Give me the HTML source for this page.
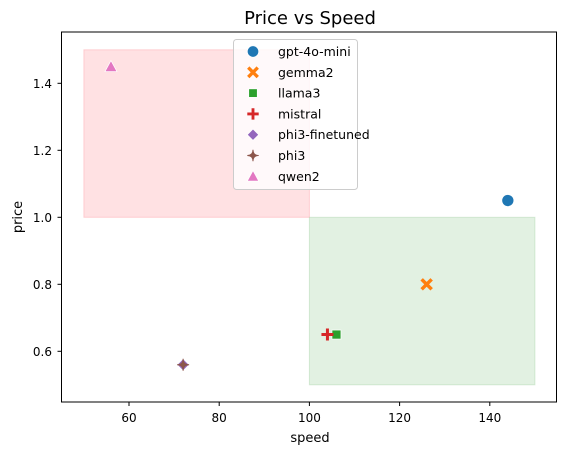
<!DOCTYPE html>
<html><head><meta charset="utf-8"><style>
body{margin:0;background:#fff;font-family:"DejaVu Sans","Liberation Sans",sans-serif}
</style></head><body>
<svg width="567" height="455" id="c" font-family="DejaVu Sans, Liberation Sans, sans-serif">
<text x="310" y="24" font-size="18" text-anchor="middle">Price vs Speed</text>
<g id="plot"></g>
<rect x="61.5" y="32" width="495" height="370" fill="none" stroke="#000" stroke-width="1"/>
<text x="310" y="442" font-size="13" text-anchor="middle">speed</text>
<text transform="translate(22,217) rotate(-90)" font-size="13" text-anchor="middle">price</text>
</svg>
<script>
const names=["gpt-4o-mini","gemma2","llama3","mistral","phi3-finetuned","phi3","qwen2"];
const speeds=[144,126,106,104,72,72,56];
const prices=[1.05,0.8,0.65,0.65,0.56,0.56,1.45];
const colors=["#1f77b4","#ff7f0e","#2ca02c","#d62728","#9467bd","#8c564b","#e377c2"];
const xTicks=[60,80,100,120,140];
const yTicks=[0.6,0.8,1.0,1.2,1.4];
const regions=[{x0:50,x1:100,y0:1.0,y1:1.5,c:"#ff9aa2"},{x0:100,x1:150,y0:0.5,y1:1.0,c:"#9fcf9f"}];
const X=v=>129+(v-60)*4.51;
const Y=v=>351.3-(v-0.6)*335;
const NS="http://www.w3.org/2000/svg";
const g=document.getElementById('plot');
function mk(t,a,p){const e=document.createElementNS(NS,t);for(const k in a)e.setAttribute(k,a[k]);(p||g).appendChild(e);return e;}
regions.forEach(r=>{const e=mk('rect',{x:X(r.x0),y:Y(r.y1),width:X(r.x1)-X(r.x0),height:Y(r.y0)-Y(r.y1),fill:r.c,'fill-opacity':0.3,stroke:r.c,'stroke-opacity':0.4});

});
xTicks.forEach(t=>{mk('line',{x1:X(t),x2:X(t),y1:402,y2:406,stroke:'#000','stroke-width':1});
const e=mk('text',{x:X(t),y:422,'font-size':12,'text-anchor':'middle'});e.textContent=t;

});
yTicks.forEach(t=>{mk('line',{x1:57.5,x2:61.5,y1:Y(t),y2:Y(t),stroke:'#000','stroke-width':1});
const e=mk('text',{x:52,y:Y(t)+4.5,'font-size':12,'text-anchor':'end'});e.textContent=t.toFixed(1);

});
function marker(i,cx,cy,s){const c=colors[i];let e;
if(i==0)e=mk('circle',{cx,cy,r:6*s,fill:c,stroke:'#fff','stroke-width':0.7});
else if(i==1)e=mk('path',{d:`M${cx-5*s},${cy-5*s}L${cx+5*s},${cy+5*s}M${cx+5*s},${cy-5*s}L${cx-5*s},${cy+5*s}`,stroke:c,'stroke-width':3.5*s});
else if(i==2)e=mk('rect',{x:cx-4.5*s,y:cy-4.5*s,width:9*s,height:9*s,fill:c,stroke:'#fff','stroke-width':0.7});
else if(i==3)e=mk('path',{d:`M${cx-6*s},${cy}L${cx+6*s},${cy}M${cx},${cy-6*s}L${cx},${cy+6*s}`,stroke:c,'stroke-width':3*s});
else if(i==4)e=mk('path',{d:`M${cx},${cy-6*s}L${cx+6*s},${cy}L${cx},${cy+6*s}L${cx-6*s},${cy}Z`,fill:c,stroke:'#fff','stroke-width':0.7});
else if(i==5)e=mk('path',{d:`M${cx},${cy-6*s}Q${cx},${cy} ${cx+6*s},${cy}Q${cx},${cy} ${cx},${cy+6*s}Q${cx},${cy} ${cx-6*s},${cy}Q${cx},${cy} ${cx},${cy-6*s}Z`,fill:c,stroke:c,'stroke-width':1});
else e=mk('path',{d:`M${cx},${cy-6*s}L${cx+6*s},${cy+5*s}L${cx-6*s},${cy+5*s}Z`,fill:c,stroke:'#fff','stroke-width':0.7});
return e;}
names.forEach((n,i)=>{const e=marker(i,X(speeds[i]),Y(prices[i]),1);

});
const lg=mk('rect',{x:233.5,y:39.5,width:124,height:150,rx:3,fill:'#fff','fill-opacity':0.8,stroke:'#ccc'});


names.forEach((n,i)=>{const y=51.5+i*20.8;const m=marker(i,253,y,0.95);


const t=mk('text',{x:278,y:y+4.5,'font-size':12.5});t.textContent=n;

});
</script>
</body></html>
